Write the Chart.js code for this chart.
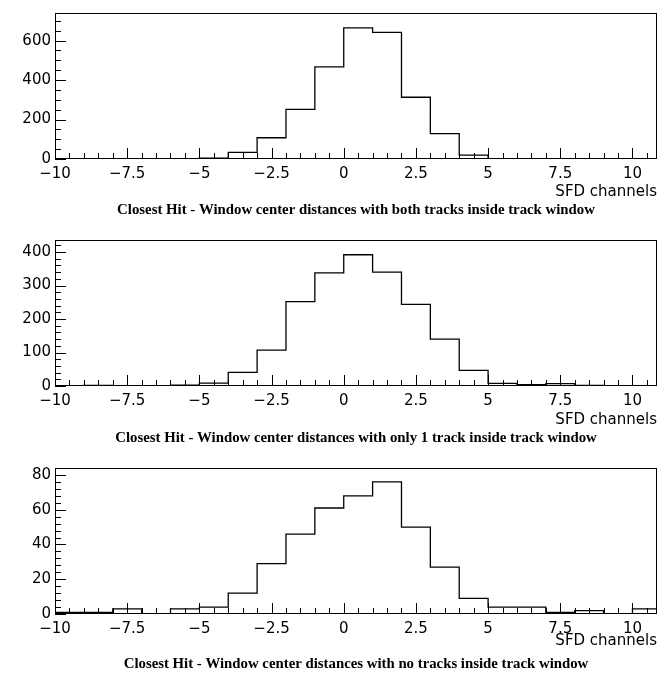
<!DOCTYPE html>
<html>
<head>
<meta charset="utf-8">
<script src="https://cdn.jsdelivr.net/npm/chart.js@4.4.0/dist/chart.umd.min.js"></script>
<style>
  html, body { margin: 0; padding: 0; background: #fff; }
  #wrap { position: relative; width: 662px; height: 677px; }
  .panel { position: absolute; left: 0; width: 662px; }
</style>
</head>
<body>
<div id="wrap">
  <div class="panel" style="top:0;height:226px"><canvas id="h1"></canvas></div>
  <div class="panel" style="top:227px;height:226px"><canvas id="h2"></canvas></div>
  <div class="panel" style="top:455px;height:222px"><canvas id="h3"></canvas></div>
</div>
<script>
// bin edges (SFD channels), one bin per channel
const binEdges = [-10, -9, -8, -7, -6, -5, -4, -3, -2, -1, 0, 1, 2, 3, 4, 5, 6, 7, 8, 9, 10, 11];

// entries per bin
const countsBoth = [0, 0, 0, 0, 0, 5, 34, 108, 252, 467, 665, 642, 313, 129, 20, 1, 2, 0, 0, 0, 0];
const countsOne  = [0, 2, 1, 1, 3, 9, 41, 107, 252, 338, 392, 340, 244, 140, 47, 8, 4, 7, 2, 1, 1];
const countsNone = [1, 1, 3, 0, 3, 4, 12, 29, 46, 61, 68, 76, 50, 27, 9, 4, 4, 1, 2, 0, 3];

const titles = [
  'Closest Hit - Window center distances with both tracks inside track window',
  'Closest Hit - Window center distances with only 1 track inside track window',
  'Closest Hit - Window center distances with no tracks inside track window'
];
const xTitle = 'SFD channels';

const tickFont = { family: '"DejaVu Sans", sans-serif', size: 15 };
const titleFont = { family: '"Liberation Serif", "Times New Roman", serif', size: 14.8, weight: 'bold' };

// ROOT style frame with ticks drawn inward
const frameTicks = {
  id: 'frameTicks',
  afterDatasetsDraw(chart, args, opts) {
    const { ctx, chartArea: a, scales: { x, y } } = chart;
    const isMajor = (v, step) => Math.abs(v / step - Math.round(v / step)) < 1e-6;
    ctx.save();
    ctx.strokeStyle = '#000';
    ctx.lineWidth = 1;
    ctx.beginPath();
    for (let k = 0; ; k++) {
      const v = x.min + k * opts.xMinor;
      if (v > x.max + 1e-9) break;
      const px = Math.round(x.getPixelForValue(v)) + 0.5;
      const len = isMajor(v, opts.xMajor) ? 11 : 6;
      ctx.moveTo(px, a.bottom);
      ctx.lineTo(px, a.bottom - len);
    }
    for (let k = 0; ; k++) {
      const v = y.min + k * opts.yMinor;
      if (v > y.max + 1e-9) break;
      const py = Math.round(y.getPixelForValue(v)) + 0.5;
      const len = isMajor(v, opts.yMajor) ? 11 : 6;
      ctx.moveTo(a.left, py);
      ctx.lineTo(a.left + len, py);
    }
    ctx.stroke();
    ctx.strokeRect(Math.round(a.left) + 0.5, Math.round(a.top) + 0.5,
      Math.round(a.right - a.left) - 1, Math.round(a.bottom - a.top) - 1);
    ctx.restore();
  }
};

function makeHist(id, counts, title, yMax, yMajor, yMinor, scaleH, titleTop, padBottom) {
  // one point per lower bin edge plus the last upper edge
  const points = binEdges.map((e, i) => ({ x: e, y: counts[Math.max(i - 1, 0)] }));
  new Chart(document.getElementById(id), {
    type: 'line',
    data: {
      datasets: [{
        data: points,
        stepped: 'after',
        borderColor: '#000',
        borderWidth: 1.3,
        pointRadius: 0,
        fill: false
      }]
    },
    options: {
      responsive: true,
      maintainAspectRatio: false,
      animation: false,
      layout: { padding: { top: 8, left: 0, right: 5, bottom: padBottom } },
      plugins: {
        legend: { display: false },
        tooltip: { enabled: false },
        title: {
          display: true,
          text: title,
          position: 'bottom',
          fullSize: false,
          color: '#000',
          font: titleFont,
          padding: { top: titleTop, bottom: 0 }
        },
        frameTicks: { xMajor: 2.5, xMinor: 0.5, yMajor: yMajor, yMinor: yMinor }
      },
      scales: {
        x: {
          type: 'linear',
          min: -10,
          max: 10.85,
          grid: { display: false, drawTicks: false },
          border: { display: false },
          ticks: {
            stepSize: 2.5,
            includeBounds: false,
            autoSkip: false,
            maxRotation: 0,
            padding: 6,
            color: '#000',
            font: tickFont,
            callback: v => String(v).replace('-', '\u2212')
          },
          title: {
            display: true,
            text: xTitle,
            align: 'end',
            color: '#000',
            font: tickFont,
            padding: 0
          },
          afterFit: s => { s.height = scaleH; }
        },
        y: {
          min: 0,
          max: yMax,
          grid: { display: false, drawTicks: false },
          border: { display: false },
          ticks: {
            stepSize: yMajor,
            includeBounds: false,
            padding: 4,
            color: '#000',
            font: tickFont
          },
          afterFit: s => { s.width = 55; }
        }
      }
    },
    plugins: [frameTicks]
  });
}

makeHist('h1', countsBoth, titles[0], 740, 200, 50, 42, 0, 7.2);
makeHist('h2', countsOne, titles[1], 436, 100, 20, 43, 0, 6.2);
makeHist('h3', countsNone, titles[2], 84, 20, 4, 36, 5, 4.2);
</script>
</body>
</html>
